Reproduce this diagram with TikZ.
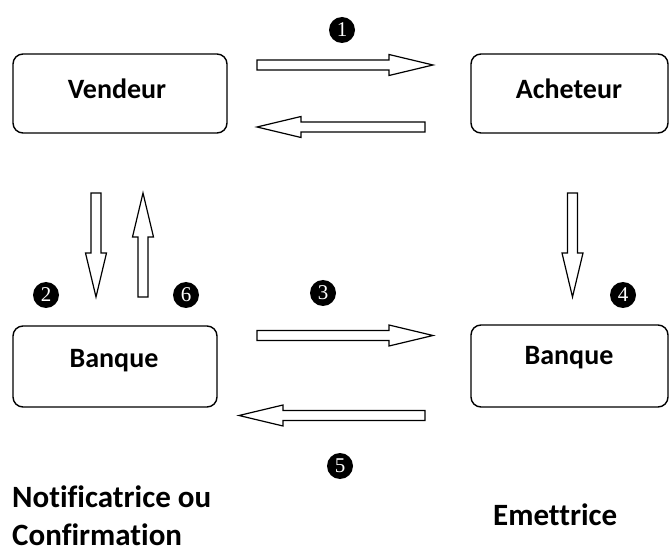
\documentclass[tikz,border=0pt]{standalone}
\usepackage{fontspec}
\setmainfont{Carlito}[Ligatures=NoCommon]
\newfontfamily\digitfont{Liberation Serif}
\begin{document}
\begin{tikzpicture}[x=1pt,y=-1pt,
  party/.style={draw=black,line width=1.4pt,rounded corners=10pt,fill=white},
  partylabel/.style={font=\bfseries\fontsize{28}{32}\selectfont},
  caption/.style={font=\bfseries\fontsize{31}{36}\selectfont,anchor=base west,inner sep=0pt},
  stepmark/.style={circle,fill=black,text=white,minimum size=26pt,inner sep=0pt,
    font=\digitfont\fontsize{21}{21}\selectfont},
  arrowline/.style={draw=black,line width=1.2pt,fill=white,line join=miter},
  pics/fatarrow/.style={code={
    \draw[arrowline] (0,5) -- (#1-44,5) -- (#1-44,10.5) -- (#1,0)
      -- (#1-44,-10.5) -- (#1-44,-5) -- (0,-5) -- cycle;}}]
\useasboundingbox (0,0) rectangle (670,556);

% parties
\draw[party] (13,54) rectangle (227,133);
\node[partylabel] (vendeur) at (117,89) {Vendeur};
\draw[party] (471,54) rectangle (668,133);
\node[partylabel] (acheteur) at (569,89) {Acheteur};
\draw[party] (13,326) rectangle (217,407);
\node[partylabel] (banqueN) at (114,361) {Banque};
\draw[party] (471,325) rectangle (668,407);
\node[partylabel] (banqueE) at (569,358) {Banque};

% flows between the parties
\coordinate (a1) at (257,65);
\coordinate (a1r) at (425,127);
\coordinate (a2) at (96,193);
\coordinate (a6) at (143,297);
\coordinate (a4) at (572.5,193);
\coordinate (a3) at (257,335.5);
\coordinate (a5) at (425,415.5);
\pic at (a1) {fatarrow=176};
\pic[rotate=180] at (a1r) {fatarrow=168};
\pic[rotate=-90] at (a2) {fatarrow=104};
\pic[rotate=90] at (a6) {fatarrow=104};
\pic[rotate=-90] at (a4) {fatarrow=104};
\pic at (a3) {fatarrow=176};
\pic[rotate=180] at (a5) {fatarrow=186};

% step numbers
\node[stepmark] (n1) at (342,30) {1};
\node[stepmark] (n2) at (46,295) {2};
\node[stepmark] (n6) at (186,295) {6};
\node[stepmark] (n3) at (323,293) {3};
\node[stepmark] (n4) at (623,295) {4};
\node[stepmark] (n5) at (340,466) {5};

% bank roles
\node[caption] (notif) at (12,507) {Notificatrice ou};
\node[caption] (confirm) at (12,545) {Confirmation};
\node[caption] (emet) at (493,525) {Emettrice};
\end{tikzpicture}
\end{document}
